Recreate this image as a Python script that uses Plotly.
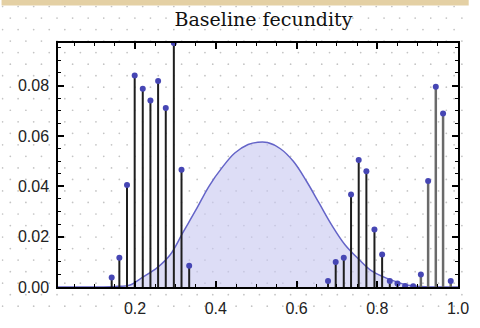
import base64
import plotly.graph_objects as go

# ---- data ----
stem_x = [0.142, 0.161, 0.180, 0.199, 0.219, 0.238, 0.257, 0.276, 0.296, 0.315, 0.334,
          0.678, 0.697, 0.717, 0.735, 0.754, 0.773, 0.793, 0.812, 0.831, 0.850, 0.869, 0.889]
stem_y = [0.0038, 0.0116, 0.0405, 0.0840, 0.0787, 0.0741, 0.0818, 0.0711, 0.0969, 0.0466, 0.0084,
          0.0024, 0.0099, 0.0116, 0.0367, 0.0504, 0.0460, 0.0228, 0.0129, 0.0024, 0.0014, 0.0004, 0.0003]
grey_x = [0.908, 0.926, 0.945, 0.963, 0.982]
grey_y = [0.0050, 0.0421, 0.0795, 0.0689, 0.0024]

curve_x = [0.009, 0.10, 0.15, 0.188, 0.219, 0.255, 0.287, 0.319, 0.351, 0.383, 0.415, 0.447,
           0.480, 0.504, 0.528, 0.560, 0.592, 0.624, 0.656, 0.688, 0.720, 0.753, 0.785,
           0.817, 0.849, 0.873, 0.92, 1.0]
curve_y = [0.0, 0.0, 0.0002, 0.0008, 0.0039, 0.0077, 0.0128, 0.0218, 0.0307, 0.0400, 0.0473, 0.0532,
           0.0566, 0.0575, 0.0574, 0.0549, 0.0499, 0.0422, 0.0333, 0.0244, 0.0168, 0.0112, 0.0065,
           0.0039, 0.0020, 0.0008, 0.0001, 0.0]

x_ticks = [0.2, 0.4, 0.6, 0.8, 1.0]
x_labels = ["0.2", "0.4", "0.6", "0.8", "1.0"]
y_ticks = [0.0, 0.02, 0.04, 0.06, 0.08]
y_labels = ["0.00", "0.02", "0.04", "0.06", "0.08"]
title = "Baseline fecundity"


def stems(xs, ys):
    sx, sy = [], []
    for a, b in zip(xs, ys):
        sx += [a, a, None]
        sy += [0, b, None]
    return sx, sy


W, H = 480, 328
ML, MR, MT, MB = 58, 11, 43, 31
PW, PH = W - ML - MR, H - MT - MB

fig = go.Figure()
fig.add_trace(go.Scatter(x=curve_x, y=curve_y, mode="lines", line=dict(color="#6464c8", width=1.5, shape="spline"),
                         fill="tozeroy", fillcolor="rgba(200,200,240,0.62)", hoverinfo="skip"))
sx, sy = stems(stem_x, stem_y)
fig.add_trace(go.Scatter(x=sx, y=sy, mode="lines", line=dict(color="#1e1e1e", width=2), hoverinfo="skip"))
gx, gy = stems(grey_x, grey_y)
fig.add_trace(go.Scatter(x=gx, y=gy, mode="lines", line=dict(color="#6a6a6a", width=2.5), hoverinfo="skip"))
fig.add_trace(go.Scatter(x=stem_x + grey_x, y=stem_y + grey_y, mode="markers",
                         marker=dict(color="#4646b4", size=6), hoverinfo="skip"))

# dotted paper background
dots = []
for r, yy in enumerate(range(5, H, 12)):
    off = 1 if r % 2 == 0 else 9
    for xx in range(off, W, 16):
        dots.append(f'<circle cx="{xx}" cy="{yy}" r="0.9" fill="#c4c4c4"/>')
svg = f'<svg xmlns="http://www.w3.org/2000/svg" width="{W}" height="{H}"><rect width="{W}" height="{H}" fill="#ffffff"/>' + "".join(dots) + "</svg>"
src = "data:image/svg+xml;base64," + base64.b64encode(svg.encode()).decode()

fig.update_layout(
    width=W, height=H,
    margin=dict(l=ML, r=MR, t=MT, b=MB),
    paper_bgcolor="white", plot_bgcolor="rgba(0,0,0,0)",
    showlegend=False,
    images=[dict(source=src, xref="paper", yref="paper", x=-ML / PW, y=1 + MT / PH,
                 sizex=W / PW, sizey=H / PH, sizing="stretch", layer="below", xanchor="left", yanchor="top")],
    shapes=[dict(type="rect", xref="paper", yref="paper", x0=-ML / PW, x1=1 + MR / PW,
                 y0=1 + (MT - 4) / PH, y1=1 + MT / PH + 0.01, fillcolor="#e4d0a4", line=dict(width=0))],
    title=dict(text=title, x=(ML + PW / 2) / W, xanchor="center", y=1 - 19 / H, yanchor="middle",
               font=dict(family="DejaVu Serif", size=19, color="#111")),
    font=dict(family="Liberation Sans", size=16, color="#222"),
)
fig.update_xaxes(range=[0.009, 1.0], tickvals=x_ticks, ticktext=x_labels, ticks="inside", ticklen=6,
                 tickwidth=1.5, tickcolor="black", showline=True, linecolor="black", linewidth=1.5,
                 mirror="ticks", showgrid=False, zeroline=False, ticklabelstandoff=6,
                 minor=dict(ticks="inside", ticklen=3, dtick=0.05, tick0=0, tickcolor="black", tickwidth=1.2, showgrid=False))
fig.update_yaxes(range=[0, 0.0969], tickvals=y_ticks, ticktext=y_labels, ticks="inside", ticklen=6,
                 tickwidth=1.5, tickcolor="black", showline=True, linecolor="black", linewidth=1.5,
                 mirror="ticks", showgrid=False, zeroline=False, ticklabelstandoff=4,
                 minor=dict(ticks="inside", ticklen=3, dtick=0.005, tick0=0, tickcolor="black", tickwidth=1.2, showgrid=False))

fig.write_html("out.html")
